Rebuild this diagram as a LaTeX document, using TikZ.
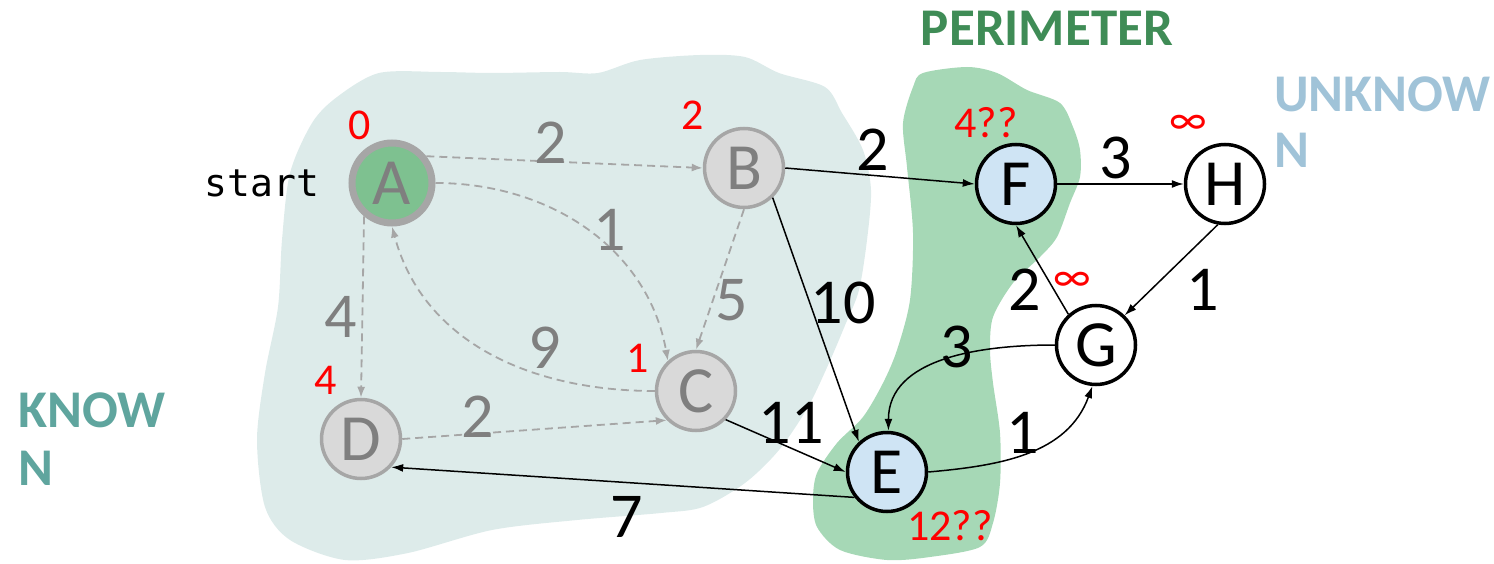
\documentclass[tikz,border=0pt]{standalone}
\usepackage{fontspec}
\setmainfont{Carlito}
\newfontfamily\monofont{DejaVu Sans Mono}
\usetikzlibrary{arrows.meta}
\definecolor{knownbg}{HTML}{DDEBEA}
\definecolor{perim}{HTML}{A6D8B6}
\definecolor{perimtxt}{HTML}{3F8C56}
\definecolor{unk}{HTML}{A0C3D8}
\definecolor{knowtxt}{HTML}{5FA59E}
\definecolor{gfill}{HTML}{D9D9D9}
\definecolor{gline}{HTML}{A6A6A6}
\definecolor{gtext}{HTML}{7F7F7F}
\definecolor{afill}{HTML}{7EC190}
\definecolor{bfill}{HTML}{CFE4F4}
\newcommand\fsz[1]{\fontsize{#1}{#1}\selectfont}
\tikzset{
  vtx/.style={circle, minimum size=79pt, inner sep=0pt, font=\fsz{66}},
  knownv/.style={vtx, draw=gline, fill=gfill, text=gtext, line width=3.5pt},
  startv/.style={vtx, minimum size=80pt, draw=gline, fill=afill, text=gtext, line width=7pt},
  frontv/.style={vtx, draw=black, fill=bfill, line width=3.5pt},
  unseenv/.style={vtx, draw=black, fill=white, line width=3.5pt},
  gedge/.style={draw=gline, line width=1.8pt, dash pattern=on 8pt off 5pt, -{Latex[length=11pt,width=8pt]}},
  bedge/.style={draw=black, line width=1.5pt, -{Latex[length=12pt,width=8pt]}},
  glab/.style={text=gtext, font=\fsz{64}, inner sep=0pt},
  blab/.style={text=black, font=\fsz{64}, inner sep=0pt},
  dist/.style={text=red, font=\fsz{44}, inner sep=0pt},
  region/.style={font=\fsz{53}\bfseries, inner sep=0pt, anchor=base west},
}
\begin{document}
\begin{tikzpicture}[x=1pt, y=-1pt]
\useasboundingbox (0,0) rectangle (1494,564);
% regions
\fill[knownbg] plot[smooth cycle] coordinates {(337,97) (379,73) (440,72) (492,73) (560,72) (598,73) (640,60) (700,55) (745,57) (779,73) (825,87) (842,113) (863,150) (871,190) (867,240) (859,290) (846,323) (829,363) (808,407) (779,450) (745,483) (703,507) (661,513) (577,520) (492,530) (408,553) (345,560) (290,540) (265,507) (257,440) (265,373) (278,307) (282,240) (290,173) (312,123)};
\fill[perim] plot[smooth cycle] coordinates {(923,73) (967,67) (997,73) (1027,90) (1060,103) (1073,127) (1080,150) (1080,177) (1070,203) (1057,237) (1040,257) (1013,283) (993,317) (990,350) (993,383) (1000,433) (1000,483) (993,523) (980,547) (930,557) (887,560) (840,550) (817,527) (813,500) (817,473) (837,443) (863,417) (883,383) (897,350) (910,300) (913,233) (907,167) (903,123) (913,87)};
% region titles
\node[region, anchor=center, text=perimtxt] (tper) at (1047,28) {PERIMETER};
\node[region, text=unk] (tunk1) at (1274,112) {UNKNOW};
\node[region, text=unk] (tunk2) at (1274,168) {N};
\node[region, text=knowtxt] (tkn1) at (18,427) {KNOW};
\node[region, text=knowtxt] (tkn2) at (18,485) {N};
\node[font=\monofont\fsz{38}, inner sep=0pt, anchor=base] (start) at (262,197) {start};
% vertices
\node[startv] (A) at (392,183) {A};
\node[knownv] (B) at (744,168) {B};
\node[knownv] (C) at (696,391) {C};
\node[knownv] (D) at (361,439) {D};
\node[frontv] (E) at (887,472) {E};
\node[frontv] (F) at (1016,184) {F};
\node[unseenv] (G) at (1096,345) {G};
\node[unseenv] (H) at (1225,184) {H};
% known (dashed) edges
\draw[gedge] (A.38) -- (B.west);
\draw[gedge] (A.east) to[out=0, in=100] (C.133);
\draw[gedge] (C.west) to[out=180, in=-75] (A.south);
\draw[gedge] (B.south) -- (C.north);
\draw[gedge] (A.-130) -- (D.north);
\draw[gedge] (D.east) -- (C.-135);
% other edges
\draw[bedge] (B.east) -- (F.west);
\draw[bedge] (B.-46) -- (E.133);
\draw[bedge] (C.-44) -- (E.west);
\draw[bedge] (E.-142) -- (D.-43);
\draw[bedge] (F.east) -- (H.west);
\draw[bedge] (H.-100) -- (G.46);
\draw[bedge] (G.132) -- (F.south);
\draw[bedge] (G.west) to[out=180, in=90] (E.88);
\draw[bedge] (E.east) to[out=5, in=-110] (G.-95);
% edge weights
\node[glab] (wab) at (551,143) {2};
\node[glab] (wac) at (610,230) {1};
\node[glab] (wbc) at (732,300) {5};
\node[glab] (wca) at (545,348) {9};
\node[glab] (wad) at (341,317) {4};
\node[glab] (wdc) at (478,417) {2};
\node[blab] (wbf) at (873,150) {2};
\node[blab] (wbe) at (843,303) {10};
\node[blab] (wce) at (791,423) {11};
\node[blab] (wed) at (627,517) {7};
\node[blab] (wfh) at (1116,158) {3};
\node[blab] (whg) at (1203,290) {1};
\node[blab] (wgf) at (1025,290) {2};
\node[blab] (wge) at (957,347) {3};
\node[blab] (weg) at (1023,433) {1};
% distances
\node[dist] (dA) at (360,125) {0};
\node[dist] (dB) at (693,115) {2};
\node[dist] (dC) at (638,358) {1};
\node[dist] (dD) at (326,380) {4};
\node[dist] (dF) at (986,123) {4??};
\node[dist] (dH) at (1188,125) {∞};
\node[dist] (dG) at (1072,282) {∞};
\node[dist] (dE) at (950,526) {12??};
\end{tikzpicture}
\end{document}
